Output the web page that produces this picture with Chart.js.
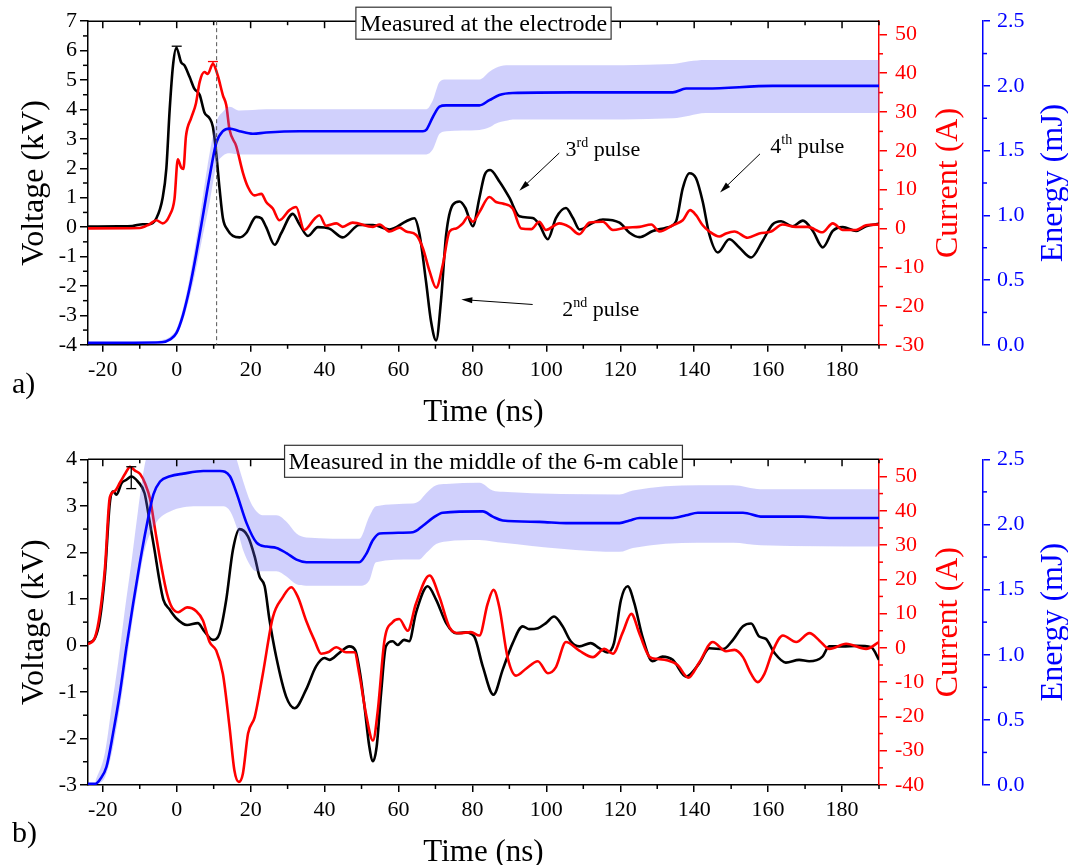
<!DOCTYPE html>
<html>
<head>
<meta charset="utf-8">
<script src="https://cdn.jsdelivr.net/npm/chart.js@4.4.1/dist/chart.umd.min.js"></script>
<style>
  body { margin: 0; background: #fff; width: 1068px; height: 865px; overflow: hidden; position: relative; }
  canvas { position: absolute; left: 0; }
  #chartA { top: 0; }
  #chartB { top: 430px; }
</style>
</head>
<body>
<canvas id="chartA" width="1068" height="430"></canvas>
<canvas id="chartB" width="1068" height="435"></canvas>
<script>
const SERIF = '"Liberation Serif", "Times New Roman", Times, serif';
const BLACK = '#000000', RED = '#ff0000', BLUE = '#0000ff';
const BAND = 'rgba(100, 100, 245, 0.3)';

// x axis (ns)
const timeMin = -24, timeMax = 190;

// ---------- a) measured at the electrode ----------  [t (ns), value]
const voltageA = [[-24,0.02],[-16,0.03],[-12,0.04],[-9.2,0.1],[-7.4,0.1],[-5.5,0.3],[-3.8,1.0],[-2.8,2.0],[-1.9,4.0],[-1.0,5.5],[-0.1,6.1],[1.2,5.6],[2.1,5.5],[3.5,5.1],[4.8,4.7],[6.2,4.5],[7.5,3.9],[8.9,3.7],[9.8,3.4],[10.7,2.5],[11.6,1.3],[12.5,0.3],[13.8,-0.1],[15.2,-0.3],[17.0,-0.35],[18.8,-0.2],[21.5,0.35],[22.9,0.3],[24.2,0.0],[26.5,-0.6],[28.3,-0.2],[31.4,0.45],[33.2,0.1],[35.5,-0.3],[38.2,0.0],[41.3,-0.05],[44.9,-0.35],[49.4,0.07],[53.1,0.07],[57.6,-0.08],[62.1,0.2],[64.3,0.3],[65.7,-0.25],[67.5,-1.9],[68.8,-3.2],[70.2,-3.85],[71.5,-2.5],[72.9,-0.25],[74.7,0.76],[76.5,0.87],[78.1,0.65],[80.1,0.03],[81.9,1.0],[83.3,1.77],[84.8,1.94],[87.3,1.55],[90.0,1.0],[92.7,0.37],[96.3,0.31],[98.1,0.09],[100.4,-0.41],[102.6,0.31],[105.3,0.65],[107.2,0.31],[109.0,-0.08],[112.6,0.15],[115.3,0.26],[119.8,0.15],[122.5,-0.19],[125.2,-0.34],[128.8,-0.13],[132.4,-0.02],[135.1,0.2],[136.9,1.32],[138.7,1.83],[140.5,1.66],[142.3,0.87],[144.1,-0.25],[146.4,-0.86],[149.5,-0.41],[152.2,-0.69],[155.4,-1.03],[158.5,-0.47],[161.2,0.09],[163.5,0.2],[166.6,0.03],[169.4,0.22],[172.1,-0.13],[174.8,-0.69],[177.5,-0.13],[180.2,0],[183.8,-0.13],[186.5,0.03],[190,0.11]];
const currentA = [[-24,0],[-10,0.1],[-7.5,1.0],[-5.5,2.1],[-3.8,1.3],[-1.9,3.4],[-0.6,7.6],[0.3,17.8],[1.2,15.7],[1.8,15.3],[2.5,23.7],[3.9,28.4],[5.2,32.2],[6.2,37.7],[7.5,40.3],[8.4,39.8],[9.8,42.4],[11.1,39.4],[12.5,34.3],[13.4,31.8],[14.3,25.4],[16.1,21.2],[17.9,14.4],[19.3,10.6],[21.0,8.5],[22.9,8.9],[24.2,6.8],[26.0,5.1],[27.8,2.1],[30.5,4.7],[32.3,5.5],[34.5,-0.4],[37.3,2.5],[38.6,3.4],[40.4,0.7],[43.2,1.3],[44.9,0.4],[47.6,1.5],[53.1,0.4],[54.9,1.0],[57.6,-0.8],[60.3,0.2],[62.1,-0.8],[64.8,-1.7],[66.6,-5.1],[68.4,-11.0],[70.2,-15.3],[72.0,-9.3],[73.8,-0.8],[75.6,0],[77.4,1.3],[78.8,3.0],[80.1,1.7],[81.9,4.2],[84.6,8.1],[86.4,6.8],[88.2,6.4],[90.9,5.1],[93.2,0],[95.9,-0.2],[98.1,1.7],[99.9,-0.4],[103.5,1.3],[106.2,0.4],[108.9,-1.5],[111.7,1.5],[115.3,1.7],[118.0,-0.4],[121.6,0.2],[125.2,0.4],[128.4,1.0],[130.6,-0.8],[134.2,0.8],[136.9,2.1],[138.9,4.7],[140.5,3.4],[142.3,0.8],[144.1,-0.8],[146.8,-2.1],[148.6,-1.3],[150.9,-0.8],[154.5,-2.4],[157.6,-1.3],[160.8,-0.8],[163.9,1.0],[167.5,0.4],[170.7,0.4],[174.7,-1.0],[177.5,1.3],[180.2,-0.4],[183.8,-0.4],[186.5,0.8],[190,1.0]];
const energyA = [[-24,0.015],[-4,0.02],[-1.9,0.04],[-0.1,0.09],[1.7,0.23],[3.5,0.44],[5.2,0.69],[7.1,1.0],[8.9,1.30],[10.7,1.56],[12.5,1.65],[14.3,1.67],[17.0,1.65],[20.6,1.63],[24.2,1.64],[33.2,1.65],[50,1.65],[66.6,1.65],[67.5,1.66],[69.3,1.76],[71.1,1.84],[72.9,1.85],[81.9,1.85],[84.6,1.89],[87.3,1.93],[90.9,1.945],[107.2,1.95],[134.2,1.95],[137.8,1.98],[143.2,1.98],[161.2,2.0],[190,2.0]];
// [t, low, high] of the shaded energy band
const energyBandA = [[-5,0.01,0.03],[-1.9,0.03,0.06],[-0.1,0.07,0.12],[1.7,0.19,0.28],[3.5,0.37,0.52],[5.2,0.58,0.80],[7.1,0.85,1.15],[8.9,1.10,1.48],[10.7,1.38,1.72],[12.5,1.46,1.80],[14.3,1.48,1.84],[17,1.47,1.81],[24.2,1.47,1.82],[50,1.47,1.82],[67.5,1.47,1.82],[69.3,1.51,1.89],[71.1,1.63,2.03],[72.9,1.65,2.05],[81.9,1.66,2.05],[84.6,1.68,2.11],[86.4,1.71,2.14],[89.1,1.73,2.16],[90.9,1.74,2.16],[107.2,1.74,2.16],[134.2,1.75,2.17],[138.7,1.77,2.19],[143,1.79,2.20],[190,1.79,2.20]];

// ---------- b) measured in the middle of the cable ----------
const voltageB = [[-24,0.05],[-22.1,0.16],[-20.8,0.55],[-19.4,1.55],[-18.1,3.06],[-17.2,3.31],[-16.3,3.24],[-14.9,3.49],[-13.6,3.56],[-12.3,3.63],[-10.5,3.52],[-8.7,3.27],[-7.4,2.70],[-6.0,2.05],[-4.7,1.41],[-3.6,0.98],[-1.9,0.77],[-0.2,0.59],[2.8,0.44],[5.7,0.48],[7.5,0.30],[9.8,0.12],[11.6,0.26],[13.4,0.98],[15.2,2.05],[17.0,2.50],[19.3,2.34],[21.1,1.91],[22.4,1.48],[23.8,1.27],[25.1,0.55],[26.9,-0.24],[29.6,-1.10],[31.9,-1.35],[35.0,-0.95],[37.7,-0.45],[40.0,-0.27],[41.3,-0.31],[44.0,-0.16],[46.7,-0.02],[48.3,-0.1],[49.6,-0.6],[50.8,-1.31],[52.1,-2.17],[53.1,-2.49],[54.1,-2.17],[55.3,-1.02],[56.6,-0.02],[58.4,0.09],[59.8,0.01],[61.5,0.12],[62.9,0.09],[64.7,0.69],[67.9,1.27],[70.2,0.98],[72.9,0.48],[75.6,0.26],[78.3,0.28],[80.5,0.19],[82.8,-0.45],[85.7,-1.06],[88.2,-0.52],[90.9,0.05],[93.6,0.41],[95.4,0.35],[97.7,0.37],[99.9,0.48],[102.1,0.62],[104.4,0.41],[106.6,0.09],[108.9,-0.02],[112.0,0.05],[114.3,-0.06],[116.5,-0.15],[118.3,0.05],[120.2,0.98],[122.0,1.27],[123.8,0.91],[126.0,0.19],[128.7,-0.34],[131.4,-0.24],[134.2,-0.31],[137.8,-0.67],[141.4,-0.38],[144.1,-0.06],[147.8,-0.08],[150.5,0.12],[153.2,0.41],[155.4,0.47],[157.6,0.19],[159.4,0.14],[161.7,-0.16],[164.8,-0.37],[168.4,-0.31],[171.1,-0.34],[174.7,-0.24],[176.5,-0.02],[180.2,-0.02],[183.8,-0.01],[187.9,-0.04],[190,-0.31]];
const currentB = [[-24,1.0],[-22.1,3.1],[-20.8,9.9],[-19.4,23.5],[-18.1,43.9],[-16.7,45.8],[-15.3,48.3],[-14.0,50.7],[-12.6,52.8],[-11.3,51.7],[-9.9,50.7],[-8.5,47.8],[-7.2,43.4],[-5.8,34.2],[-4.1,23.5],[-2.6,15.7],[-1.3,11.8],[0.4,10.4],[2.8,11.8],[5.3,10.7],[7.1,8.0],[8.9,1.7],[10.7,-0.8],[12.5,-7.6],[14.3,-23.1],[15.6,-35.7],[16.8,-39.1],[17.9,-36.7],[19.3,-25.0],[21.1,-20.2],[23.3,-7.6],[26.0,8.9],[28.7,14.8],[31.0,17.7],[32.8,14.8],[35.0,8.0],[37.3,2.1],[39.1,-1.7],[40.9,-1.3],[43.2,0.2],[45.8,-1.3],[48.1,-1.3],[49.4,-7.6],[51.2,-19.2],[53.1,-27.0],[54.4,-18.3],[56.2,2.1],[58.4,7.5],[60.2,8.4],[62.5,5.0],[64.7,12.8],[68.4,21.1],[71.1,14.8],[73.8,6.0],[76.5,4.3],[79.6,4.6],[81.9,3.6],[84.1,12.8],[85.7,16.9],[87.3,11.8],[89.5,-2.7],[91.8,-8.1],[94.5,-6.1],[97.7,-3.9],[100.4,-7.4],[102.6,-5.6],[105.3,1.7],[108.9,-0.8],[112.6,-2.7],[115.7,-0.3],[118.0,-1.7],[120.7,4.6],[123.0,9.9],[125.2,4.1],[128.0,-2.7],[129.8,-3.2],[132.9,-3.7],[135.5,-5.0],[138.4,-8.7],[141.4,-4.2],[145.0,1.7],[148.6,-1.0],[150.9,-0.6],[153.2,-2.7],[155.4,-7.6],[157.2,-10.0],[159.0,-7.6],[161.3,-0.8],[164.0,3.6],[167.6,1.7],[171.2,4.3],[173.9,2.1],[176.6,-0.3],[181.1,1.2],[186.5,-0.3],[190,1.7]];
const energyB = [[-24,0.01],[-22,0.01],[-20.8,0.04],[-19.0,0.14],[-17.2,0.40],[-15.4,0.70],[-13.6,1.06],[-11.8,1.39],[-10.0,1.70],[-8.2,1.98],[-6.3,2.23],[-4.5,2.33],[-1.8,2.37],[1.8,2.39],[7.2,2.41],[11.7,2.41],[14.4,2.37],[16.2,2.24],[18.9,2.01],[21.6,1.86],[24.3,1.83],[27.0,1.82],[29.7,1.78],[32.4,1.73],[35.1,1.71],[49.4,1.71],[51.2,1.77],[53.1,1.88],[54.9,1.93],[63.9,1.94],[66.6,1.99],[69.3,2.05],[72.0,2.09],[82.8,2.10],[85.5,2.06],[88.2,2.03],[98.1,2.02],[105.3,2.01],[119.8,2.01],[122.5,2.03],[125.2,2.05],[134.2,2.05],[137.8,2.07],[141.0,2.09],[153.2,2.09],[158.5,2.06],[169.4,2.06],[176.6,2.05],[190,2.05]];
const energyBandB = [[-22,0.0,0.03],[-19.4,0.06,0.25],[-17.6,0.24,0.60],[-15.8,0.52,0.95],[-14.0,0.86,1.35],[-12.3,1.20,1.70],[-10.5,1.52,2.10],[-8.7,1.80,2.45],[-5.4,2.02,2.75],[-1.8,2.10,2.80],[5.4,2.14,2.80],[12.6,2.14,2.80],[14.5,2.10,2.65],[16.2,1.98,2.50],[18.0,1.80,2.33],[20.0,1.68,2.17],[21.6,1.64,2.10],[23.3,1.64,2.07],[27.0,1.64,2.07],[29.7,1.60,2.02],[32.4,1.54,1.93],[35,1.53,1.90],[49.4,1.53,1.89],[52.1,1.57,2.06],[53.9,1.71,2.14],[63.9,1.73,2.16],[65.6,1.73,2.18],[67.5,1.78,2.24],[70.2,1.85,2.30],[72.9,1.87,2.31],[81.9,1.88,2.32],[85.5,1.87,2.26],[88.2,1.86,2.25],[119.8,1.79,2.23],[123.4,1.82,2.26],[141.0,1.86,2.30],[150.5,1.86,2.30],[158,1.84,2.27],[190,1.83,2.27]];

// error bars: [t, low, high]
const errVoltageA = [[0, 6.05, 6.15]];
const errCurrentA = [[9.8, 42.4, 43.0]];
const errVoltageB = [[-12.3, 3.37, 3.84]];

// pulse labels: text position and arrow tail -> head, in (ns, kV)
const notesA = [
  { num: '3', sup: 'rd', at: [105.2, 2.42], from: [103.5, 2.52], to: [92.7, 1.24] },
  { num: '2', sup: 'nd', at: [104.3, -3.03], from: [96.3, -2.63], to: [77.0, -2.46] },
  { num: '4', sup: 'th', at: [160.6, 2.52], from: [157.8, 2.49], to: [147.0, 1.18] }
];

function pts(rows, k) { return rows.map(r => ({ x: r[0], y: r[k || 1] })); }

function seg(ctx, x1, y1, x2, y2) { ctx.beginPath(); ctx.moveTo(x1, y1); ctx.lineTo(x2, y2); ctx.stroke(); }

// minor / inner tick marks that Chart.js does not draw itself
function marks(ctx, scale, step, skip, at, dir, len) {
  const first = Math.ceil(scale.min / step - 1e-6), last = Math.floor(scale.max / step + 1e-6);
  for (let k = first; k <= last; k++) {
    const v = k * step;
    if (skip && Math.abs(v / skip - Math.round(v / skip)) < 1e-6) continue;
    const p = scale.getPixelForValue(v);
    if (scale.isHorizontal()) seg(ctx, p, at, p, at + dir * len);
    else seg(ctx, at, p, at + dir * len, p);
  }
}

function errBar(ctx, xs, ys, e, color, bothCaps) {
  const x = xs.getPixelForValue(e[0]), y1 = ys.getPixelForValue(e[1]), y2 = ys.getPixelForValue(e[2]);
  ctx.strokeStyle = color; ctx.lineWidth = 1.3;
  seg(ctx, x, y1, x, y2);
  seg(ctx, x - 5, y2, x + 5, y2);
  if (bothCaps) seg(ctx, x - 5, y1, x + 5, y1);
}

function vText(ctx, text, x, y, color) {
  ctx.save();
  ctx.translate(x, y); ctx.rotate(-Math.PI / 2);
  ctx.fillStyle = color; ctx.textAlign = 'center'; ctx.textBaseline = 'alphabetic';
  ctx.fillText(text, 0, 0);
  ctx.restore();
}

const decor = {
  id: 'decor',
  afterDraw(chart, args, o) {
    const { ctx, chartArea: a, scales: s } = chart;
    ctx.save();
    ctx.lineWidth = 1.5;
    // frame top with inner ticks, minor ticks everywhere
    ctx.strokeStyle = BLACK;
    seg(ctx, a.left, a.top, a.right, a.top);
    marks(ctx, s.x, 20, 0, a.top, 1, 7);
    marks(ctx, s.x, 10, 20, a.top, 1, 4);
    marks(ctx, s.x, 10, 20, a.bottom, 1, 4);
    marks(ctx, s.y, 0.5, 1, a.left, -1, 5);
    ctx.strokeStyle = RED;
    marks(ctx, s.yI, 5, 10, s.yI.left, 1, 4);
    ctx.strokeStyle = BLUE;
    marks(ctx, s.yE, 0.25, 0.5, s.yE.left, 1, 4);

    // dashed marker
    if (o.dash != null) {
      const x = s.x.getPixelForValue(o.dash);
      ctx.strokeStyle = '#555'; ctx.lineWidth = 1; ctx.setLineDash([4, 3]);
      seg(ctx, x, a.top, x, a.bottom);
      ctx.setLineDash([]);
    }

    // error bars
    (o.errV || []).forEach(e => errBar(ctx, s.x, s.y, e, BLACK, o.bothCaps));
    (o.errI || []).forEach(e => errBar(ctx, s.x, s.yI, e, RED, o.bothCaps));

    // pulse notes
    ctx.fillStyle = BLACK; ctx.strokeStyle = BLACK; ctx.textAlign = 'left'; ctx.textBaseline = 'alphabetic';
    (o.notes || []).forEach(n => {
      const x = s.x.getPixelForValue(n.at[0]), y = s.y.getPixelForValue(n.at[1]);
      ctx.font = `22px ${SERIF}`; ctx.fillText(n.num, x, y);
      let w = ctx.measureText(n.num).width;
      ctx.font = `14px ${SERIF}`; ctx.fillText(n.sup, x + w, y - 9);
      w += ctx.measureText(n.sup).width;
      ctx.font = `22px ${SERIF}`; ctx.fillText(' pulse', x + w, y);
      const x1 = s.x.getPixelForValue(n.from[0]), y1 = s.y.getPixelForValue(n.from[1]);
      const x2 = s.x.getPixelForValue(n.to[0]), y2 = s.y.getPixelForValue(n.to[1]);
      const ang = Math.atan2(y2 - y1, x2 - x1);
      ctx.lineWidth = 1;
      seg(ctx, x1, y1, x2 - 8 * Math.cos(ang), y2 - 8 * Math.sin(ang));
      ctx.beginPath();
      ctx.moveTo(x2, y2);
      ctx.lineTo(x2 - 11 * Math.cos(ang) + 3 * Math.sin(ang), y2 - 11 * Math.sin(ang) - 3 * Math.cos(ang));
      ctx.lineTo(x2 - 11 * Math.cos(ang) - 3 * Math.sin(ang), y2 - 11 * Math.sin(ang) + 3 * Math.cos(ang));
      ctx.closePath(); ctx.fill();
    });

    // boxed title on the top frame
    ctx.font = `24px ${SERIF}`;
    const tw = ctx.measureText(o.box).width;
    const cx = (a.left + a.right) / 2, cy = a.top + 2;
    ctx.fillStyle = '#fff'; ctx.fillRect(cx - tw / 2 - 4, cy - 16, tw + 8, 32);
    ctx.strokeStyle = '#333'; ctx.lineWidth = 1.2; ctx.strokeRect(cx - tw / 2 - 4, cy - 16, tw + 8, 32);
    ctx.fillStyle = BLACK; ctx.textAlign = 'center';
    ctx.fillText(o.box, cx, cy + 8);

    // axis titles
    const my = (a.top + a.bottom) / 2;
    ctx.font = `32px ${SERIF}`;
    vText(ctx, 'Voltage (kV)', 43, my, BLACK);
    vText(ctx, 'Current (A)', 957, my, RED);
    vText(ctx, 'Energy (mJ)', 1062, my, BLUE);
    ctx.font = `31px ${SERIF}`; ctx.fillStyle = BLACK; ctx.textAlign = 'center';
    ctx.fillText('Time (ns)', cx, o.timeY);
    ctx.font = `30px ${SERIF}`; ctx.textAlign = 'left';
    ctx.fillText(o.tag, 12, o.tagY);
    ctx.restore();
  }
};

function axis(pos, color, min, max, step, fmt, width, tickLen, pad) {
  return {
    type: 'linear', position: pos, min: min, max: max,
    afterFit: sc => { sc.width = width; },
    border: { display: true, color: color, width: 1.5 },
    grid: { display: true, drawOnChartArea: false, color: color, lineWidth: 1.5, tickLength: tickLen },
    ticks: { stepSize: step, includeBounds: false, color: color, padding: pad,
             font: { family: SERIF, size: 22 }, callback: fmt }
  };
}

function makeChart(id, p) {
  const bandLo = p.band.map(r => ({ x: r[0], y: r[1] }));
  const bandHi = p.band.map(r => ({ x: r[0], y: r[2] }));
  const line = { pointRadius: 0, borderWidth: 2.6, cubicInterpolationMode: 'monotone', fill: false };
  return new Chart(document.getElementById(id), {
    type: 'line',
    data: {
      datasets: [
        Object.assign({ label: 'Energy', data: pts(p.energy), yAxisID: 'yE', borderColor: BLUE, order: 1 }, line),
        Object.assign({}, line, { label: 'Energy max', data: bandHi, yAxisID: 'yE', borderWidth: 0, borderColor: 'rgba(0,0,0,0)', order: 2 }),
        Object.assign({}, line, { label: 'Energy min', data: bandLo, yAxisID: 'yE', borderWidth: 0, borderColor: 'rgba(0,0,0,0)', fill: 1, backgroundColor: BAND, order: 2 }),
        Object.assign({ label: 'Current', data: pts(p.current), yAxisID: 'yI', borderColor: RED, order: 3 }, line),
        Object.assign({ label: 'Voltage', data: pts(p.voltage), yAxisID: 'y', borderColor: BLACK, order: 4 }, line)
      ]
    },
    options: {
      responsive: false, animation: false, devicePixelRatio: 1, events: [],
      layout: { padding: { top: p.top, left: 0, right: 0, bottom: 0 } },
      scales: {
        x: {
          type: 'linear', position: 'bottom', min: timeMin, max: timeMax,
          afterFit: sc => { sc.height = p.xHeight; },
          border: { display: true, color: BLACK, width: 1.5 },
          grid: { display: true, drawOnChartArea: false, color: BLACK, lineWidth: 1.5, tickLength: 7 },
          ticks: { stepSize: 20, includeBounds: false, color: BLACK, padding: 7, maxRotation: 0,
                   font: { family: SERIF, size: 22, lineHeight: 1 }, callback: v => String(v) }
        },
        y: axis('left', BLACK, p.vMin, p.vMax, 1, v => String(v), 88, 8, 3),
        yI: axis('right', RED, p.iMin, p.iMax, 10, v => String(v), 104, 8, 8),
        yE: axis('right', BLUE, 0, 2.5, 0.5, v => v.toFixed(1), 85, 7, 7)
      },
      plugins: {
        legend: { display: false }, tooltip: { enabled: false },
        filler: { propagate: false },
        decor: p.decor
      }
    },
    plugins: [decor]
  });
}

makeChart('chartA', {
  voltage: voltageA, current: currentA, energy: energyA, band: energyBandA,
  vMin: -4, vMax: 7, iMin: -30, iMax: 53.4, top: 16.7, xHeight: 85.2,
  decor: { box: 'Measured at the electrode', tag: 'a)', tagY: 393, timeY: 421, dash: 10.8,
           errV: errVoltageA, errI: errCurrentA, notes: notesA, bothCaps: false }
});

makeChart('chartB', {
  voltage: voltageB, current: currentB, energy: energyB, band: energyBandB,
  vMin: -3, vMax: 4, iMin: -40, iMax: 55, top: 29.3, xHeight: 80,
  decor: { box: 'Measured in the middle of the 6-m cable', tag: 'b)', tagY: 412, timeY: 431, dash: null,
           errV: errVoltageB, errI: [], notes: [], bothCaps: true }
});
</script>
</body>
</html>
